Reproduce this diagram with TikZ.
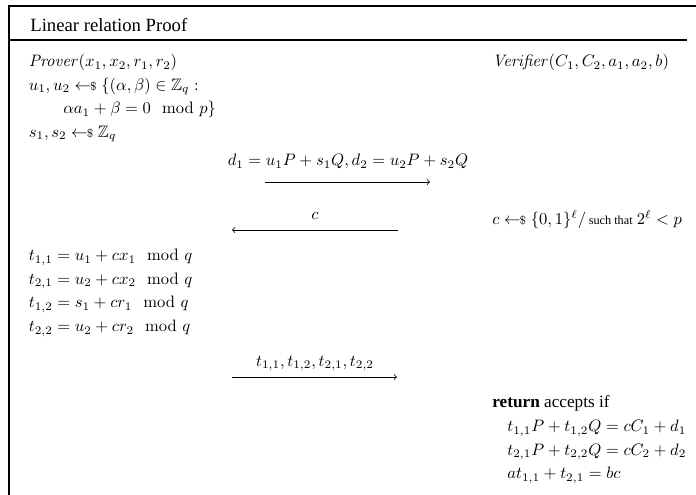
\documentclass[tikz,border=0pt]{standalone}
\usepackage{amsmath,amssymb}
\usepackage[no-math]{fontspec}
\setmainfont{Liberation Serif}
\newcommand{\smp}{\mathrel{\leftarrow\!\!{\scriptstyle\$}}}
\begin{document}
\begin{tikzpicture}[x=0.604pt,y=-0.604pt,
  lbl/.style={inner sep=0pt, anchor=base west},
  msg/.style={inner sep=0pt, anchor=base},
  ttl/.style={font=\fontsize{11.3}{14}\selectfont},
  txt/.style={font=\fontsize{10.4}{12}\selectfont},
  arr/.style={->, line width=0.45pt},
  frame/.style={line width=1.15pt},
  rule/.style={line width=0.7pt}]
\useasboundingbox (0,0) rectangle (696,495);
% frame
\draw[frame] (9,495) -- (9,6) -- (696,6);
\node[lbl, ttl] (title) at (30,32) {Linear relation Proof};
\draw[rule] (9,40) -- (687,40);
% parties
\node[lbl] (prover) at (28.5,67) {$\mathit{Prover}(x_1,x_2,r_1,r_2)$};
\node[lbl] (verifier) at (492,67) {$\mathit{Verifier}(C_1,C_2,a_1,a_2,b)$};
% prover commitments
\node[lbl] (u) at (28.5,90.5) {$u_1,u_2 \smp \{(\alpha,\beta)\in\mathbb{Z}_q:$};
\node[lbl] (ucond) at (63,114) {$\alpha a_1+\beta=0 \mod p\}$};
\node[lbl] (s) at (28.5,137.5) {$s_1,s_2 \smp \mathbb{Z}_q$};
% message d
\node[msg] (dmsg) at (348,166) {$d_1=u_1P+s_1Q, d_2=u_2P+s_2Q$};
\coordinate (d0) at (265,182);
\coordinate (d1) at (430,182);
\draw[arr] (d0) -- (d1);
% challenge
\node[msg] (cmsg) at (315,220) {$c$};
\coordinate (c0) at (398,230);
\coordinate (c1) at (232,230);
\draw[arr] (c0) -- (c1);
\node[lbl] (csample) at (492,225) {$c \smp \{0,1\}^\ell/$\,{\fontsize{7.4}{9}\selectfont such that} $2^\ell<p$};
% responses
\node[lbl] (t11) at (28.5,260.7) {$t_{1,1}=u_1+cx_1 \mod q$};
\node[lbl] (t21) at (28.5,284.3) {$t_{2,1}=u_2+cx_2 \mod q$};
\node[lbl] (t12) at (28.5,308) {$t_{1,2}=s_1+cr_1 \mod q$};
\node[lbl] (t22) at (28.5,331.6) {$t_{2,2}=u_2+cr_2 \mod q$};
\node[msg] (tmsg) at (315,366.5) {$t_{1,1},t_{1,2},t_{2,1},t_{2,2}$};
\coordinate (t0) at (232,377);
\coordinate (t1) at (397,377);
\draw[arr] (t0) -- (t1);
% verification
\node[lbl, txt] (ret) at (492,408) {\textbf{return} accepts if};
\node[lbl] (v1) at (507,432) {$t_{1,1}P+t_{1,2}Q=cC_1+d_1$};
\node[lbl] (v2) at (507,455.5) {$t_{2,1}P+t_{2,2}Q=cC_2+d_2$};
\node[lbl] (v3) at (507,479) {$at_{1,1}+t_{2,1}=bc$};
\end{tikzpicture}
\end{document}
